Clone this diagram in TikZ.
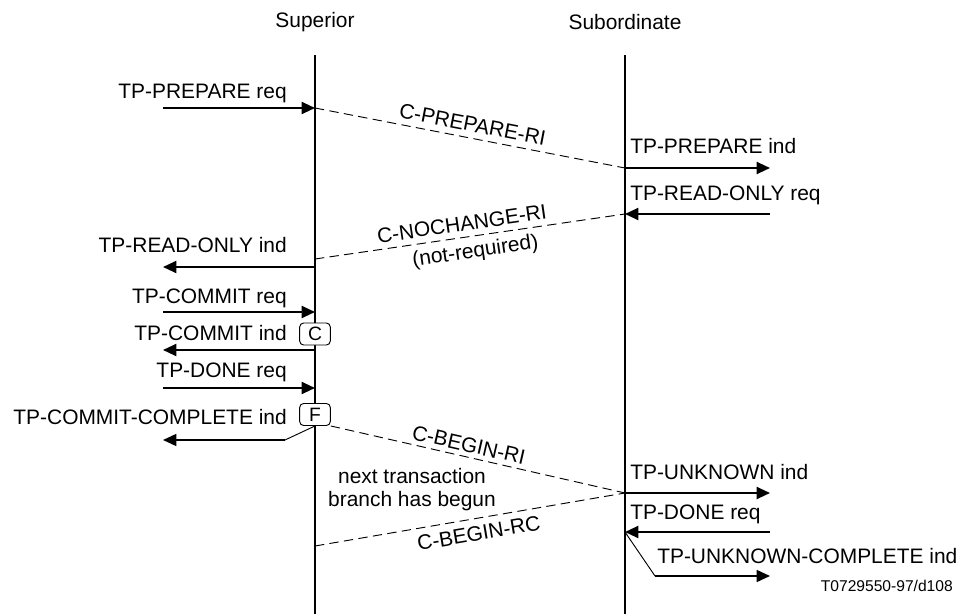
\documentclass[tikz,border=0pt]{standalone}
\usepackage{fontspec}
\setmainfont{Liberation Sans}
\usetikzlibrary{arrows.meta}

\begin{document}
\begin{tikzpicture}[x=0.75pt, y=-0.75pt, >={Triangle[length=10pt,width=9pt]},
  font=\fontsize{15.7}{17.3}\selectfont,
  life/.style={line width=1.4pt},
  msg/.style={->, line width=1.5pt},
  sig/.style={dash pattern=on 7pt off 4pt, line width=0.7pt},
  lbl/.style={inner sep=0pt},
  stbox/.style={draw, fill=white, rounded corners=3pt, line width=0.7pt,
    minimum width=23pt, minimum height=16.5pt, inner sep=0pt,
    font=\fontsize{14.5}{14.5}\selectfont}]
  \useasboundingbox (0,0) rectangle (965,614);
  % lifelines
  \node (sup) at (315,22) {Superior};
  \node (sub) at (625,22) {Subordinate};
  \coordinate (supT) at (315,55);
  \coordinate (supB) at (315,614);
  \coordinate (subT) at (625,55);
  \coordinate (subB) at (625,614);
  \draw[life] (supT) -- (supB);
  \draw[life] (subT) -- (subB);
  % points on the lifelines
  \coordinate (s1) at (315,108);
  \coordinate (r1) at (625,168);
  \coordinate (r2) at (625,214);
  \coordinate (s2) at (315,259);
  \coordinate (s3) at (315,267);
  \coordinate (s4) at (315,312);
  \coordinate (s5) at (315,350);
  \coordinate (s6) at (315,388);
  \coordinate (r3) at (625,493);
  \coordinate (s8) at (315,546);
  \coordinate (r4) at (625,532);
  % free ends of the primitives
  \coordinate (e1) at (163,108);
  \coordinate (e2) at (770,168);
  \coordinate (e3) at (770,214);
  \coordinate (e4) at (163,267);
  \coordinate (e5) at (163,312);
  \coordinate (e6) at (163,350);
  \coordinate (e7) at (163,388);
  \coordinate (k1) at (285,440);
  \coordinate (e8) at (163,440);
  \coordinate (e9) at (770,493);
  \coordinate (e10) at (770,532);
  \coordinate (k2) at (655,576);
  \coordinate (e11) at (770,576);
  % state boxes
  \node[stbox] (boxC) at (315,334) {C};
  \node[stbox] (boxF) at (315,414.5) {F};
  % primitives at the superior
  \node[lbl, anchor=base east] (pReq) at (287,98) {TP-PREPARE req};
  \draw[msg] (e1) -- (s1);
  \node[lbl, anchor=base east] (roInd) at (287,252) {TP-READ-ONLY ind};
  \draw[msg] (s3) -- (e4);
  \node[lbl, anchor=base east] (cReq) at (287,303) {TP-COMMIT req};
  \draw[msg] (e5) -- (s4);
  \node[lbl, anchor=base east] (cInd) at (287,340) {TP-COMMIT ind};
  \draw[msg] (s5) -- (e6);
  \node[lbl, anchor=base east] (dReq) at (287,377) {TP-DONE req};
  \draw[msg] (e7) -- (s6);
  \node[lbl, anchor=base east] (ccInd) at (287,424) {TP-COMMIT-COMPLETE ind};
  \draw[line width=0.7pt] (boxF.south) -- (k1);
  \draw[->, line width=1.1pt] (k1) -- (e8);
  % primitives at the subordinate
  \node[lbl, anchor=base west] (pInd) at (630,153) {TP-PREPARE ind};
  \draw[msg] (r1) -- (e2);
  \node[lbl, anchor=base west] (roReq) at (630,200) {TP-READ-ONLY req};
  \draw[msg] (e3) -- (r2);
  \node[lbl, anchor=base west] (uInd) at (630,479) {TP-UNKNOWN ind};
  \draw[msg] (r3) -- (e9);
  \node[lbl, anchor=base west] (d2Req) at (630,519) {TP-DONE req};
  \draw[msg] (e10) -- (r4);
  \node[lbl, anchor=base west] (ucInd) at (657,563) {TP-UNKNOWN-COMPLETE ind};
  \draw[line width=0.7pt] (r4) -- (k2);
  \draw[->, line width=1.1pt] (k2) -- (e11);
  % protocol messages
  \draw[sig] (s1) -- node[sloped, above=1pt] (mPrep) {C-PREPARE-RI} (r1);
  \draw[sig] (s2) -- node[sloped, above=1pt, pos=0.48] (mNoch) {C-NOCHANGE-RI}
    node[sloped, below=1pt, pos=0.51] (mNreq) {(not-required)} (r2);
  \draw[sig] (boxF.south east) -- node[sloped, above, pos=0.46] (mBegRI) {C-BEGIN-RI} (r3);
  \draw[sig] (s8) -- node[sloped, below=2pt, pos=0.52] (mBegRC) {C-BEGIN-RC} (r3);
  \node[align=center] (nxt) at (412,490) {next transaction\\branch has begun};
  \node[lbl, anchor=base east, font=\fontsize{11.7}{12}\selectfont] (fig) at (953,591) {T0729550-97/d108};
\end{tikzpicture}
\end{document}
